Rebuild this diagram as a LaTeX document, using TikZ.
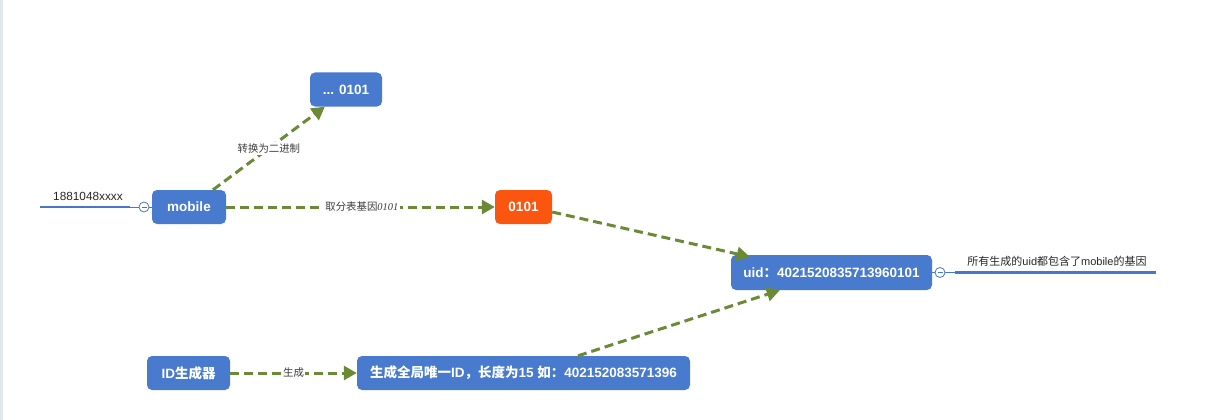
\documentclass[tikz,border=0pt]{standalone}
\usepackage{fontspec}
\setmainfont{Liberation Sans}
\newfontfamily\cjk{Noto Sans CJK SC}
\newfontfamily\lserif{Liberation Serif}
\newcommand\zh[1]{{\cjk #1}}
\usetikzlibrary{arrows.meta,calc}
\definecolor{nodeblue}{RGB}{72,122,206}
\definecolor{nodeorange}{RGB}{250,86,16}
\definecolor{arrgreen}{RGB}{106,138,54}
\definecolor{linkblue}{RGB}{72,118,200}
\definecolor{labgray}{RGB}{60,60,60}
\definecolor{edgegray}{RGB}{226,231,237}
\tikzset{
  box/.style={fill=nodeblue, rounded corners=5pt, text=white, font=\fontsize{13.5}{16}\selectfont\bfseries, inner sep=0pt, minimum height=34pt, align=center},
  hot/.style={box, fill=nodeorange},
  arr/.style={draw=arrgreen, line width=3pt, dash pattern=on 9pt off 5pt, -{Triangle[length=13pt,width=14pt]}},
  lab/.style={fill=white, text=labgray, font=\fontsize{10.4}{12}\selectfont, inner sep=1.5pt},
  side/.style={text=black!85, font=\fontsize{11.8}{13}\selectfont, inner sep=0pt},
  rside/.style={side, font=\fontsize{11}{13}\selectfont},
  thick link/.style={draw=linkblue, line width=2.8pt},
  thin link/.style={draw=linkblue, line width=0.8pt},
  knob/.style={circle, draw=linkblue, fill=white, line width=0.8pt, minimum size=10pt, inner sep=0pt}
}
\begin{document}
\begin{tikzpicture}[x=1pt,y=-1pt]
\path[use as bounding box] (0,0) rectangle (1216,420);
\fill[edgegray] (0,0) rectangle (2.5,420);

\node[box, minimum width=72pt] (top) at (346,89.5) {... 0101};
\node[box, minimum width=74pt] (mob) at (189,207) {mobile};
\node[hot, minimum width=57pt] (hot) at (523.5,207) {0101};
\node[box, minimum width=201pt, minimum height=35pt] (uid) at (831.5,272.5) {uid\zh{：}4021520835713960101};
\node[box, minimum width=83pt] (idg) at (188.5,373) {ID\zh{生成器}};
\node[box, minimum width=333pt] (gen) at (523.5,373) {\zh{生成全局唯一}ID\zh{，长度为}15 \zh{如：}402152083571396};

% left attachment
\coordinate (lend) at (40,207);
\coordinate (lmid) at (130,207);
\node[knob] (lk) at (144,207) {};
\draw[thick link] (lend) -- (lmid);
\draw[thin link] (lmid) -- (lk.west);
\draw[thin link] (lk.east) -- (mob.west);
\draw[linkblue, line width=0.7pt] ($(lk.center)+(-2.5,0)$) -- ($(lk.center)+(2.5,0)$);
\node[side] (ltxt) at (88,196) {1881048xxxx};

% right attachment
\node[knob] (rk) at (940,272.5) {};
\coordinate (rstart) at (955,272.5);
\coordinate (rend) at (1156,272.5);
\draw[thin link] (uid.east) -- (rk.west);
\draw[thin link] (rk.east) -- (rstart);
\draw[thick link] (rstart) -- (rend);
\draw[linkblue, line width=0.7pt] ($(rk.center)+(-2.5,0)$) -- ($(rk.center)+(2.5,0)$);
\node[rside] (rtxt) at (1057,261) {\zh{所有生成的}uid\zh{都包含了}mobile\zh{的基因}};

% connectors
\draw[arr] ($(mob.north)+(24,0)$) -- node[lab] {\zh{转换为二进制}} ($(top.south west)+(15,0)$);
\draw[arr] (mob.east) -- node[lab, pos=0.505] {\zh{取分表基因}{\lserif\itshape 0101}} (hot.west);
\draw[arr] ($(hot.east)+(0,5)$) -- ($(uid.north west)+(19,2)$);
\draw[arr] ($(gen.north)+(54.5,0)$) -- ($(uid.south west)+(49,0)$);
\draw[arr] (idg.east) -- node[lab] {\zh{生成}} (gen.west);
\end{tikzpicture}
\end{document}
